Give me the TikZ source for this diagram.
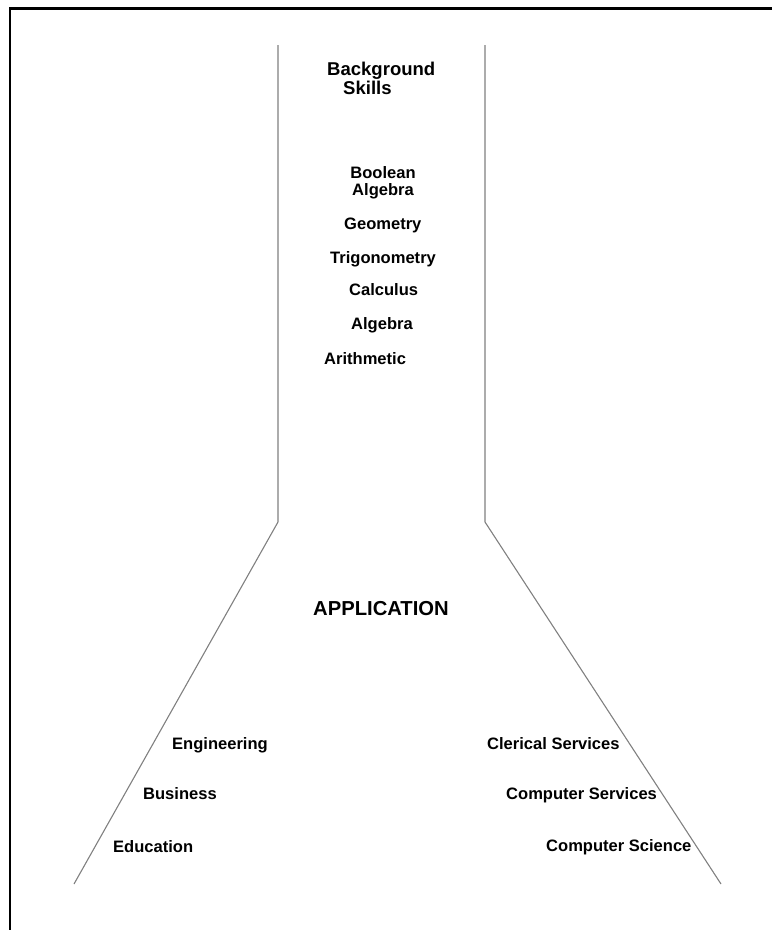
\documentclass[tikz,border=0pt]{standalone}
\usepackage{fontspec}
\setmainfont{Liberation Sans}
\usepackage{tikz}
\usetikzlibrary{arrows,shapes}

\begin{document}
\begin{tikzpicture}[
  lbl/.style={anchor=base west,inner sep=0pt,font=\fontsize{16.6}{17}\selectfont\bfseries},
  funnel/.style={draw=black!50,line width=1.1bp},
  frame/.style={draw=black,line width=2.2bp}]
\useasboundingbox (0bp,0bp) rectangle (772bp,-930bp);
% frame
\coordinate (F1) at (10bp,-930bp);
\coordinate (F2) at (10bp,-8.5bp);
\coordinate (F3) at (772bp,-8.5bp);
\draw [frame] (F1) -- (F2) -- (F3);
% funnel
\coordinate (L1) at (278bp,-45bp);
\coordinate (L2) at (278bp,-522bp);
\coordinate (L3) at (74bp,-884bp);
\coordinate (R1) at (485bp,-45bp);
\coordinate (R2) at (485bp,-522bp);
\coordinate (R3) at (721bp,-884bp);
\draw [funnel] (L1) -- (L2) -- (L3);
\draw [funnel] (R1) -- (R2) -- (R3);
% skills
\node (BG) at (327bp,-94bp)[lbl,align=left,font=\fontsize{18.6}{19}\selectfont\bfseries] {Background\\\hspace*{16bp}Skills};
\node (BA) at (383bp,-195bp)[lbl,anchor=base,align=center] {Boolean\\Algebra};
\node (GE) at (344bp,-229bp)[lbl] {Geometry};
\node (TR) at (330bp,-263bp)[lbl] {Trigonometry};
\node (CA) at (349bp,-295bp)[lbl] {Calculus};
\node (AL) at (351bp,-329bp)[lbl] {Algebra};
\node (AR) at (324bp,-364bp)[lbl] {Arithmetic};
% applications
\node (AP) at (313bp,-615bp)[lbl,font=\fontsize{20.3}{21}\selectfont\bfseries] {APPLICATION};
\node (EN) at (172bp,-749bp)[lbl] {Engineering};
\node (BU) at (143bp,-799bp)[lbl] {Business};
\node (ED) at (113bp,-852bp)[lbl] {Education};
\node (CL) at (487bp,-749bp)[lbl] {Clerical Services};
\node (CS) at (506bp,-799bp)[lbl] {Computer Services};
\node (SC) at (546bp,-851bp)[lbl] {Computer Science};
\end{tikzpicture}
\end{document}
